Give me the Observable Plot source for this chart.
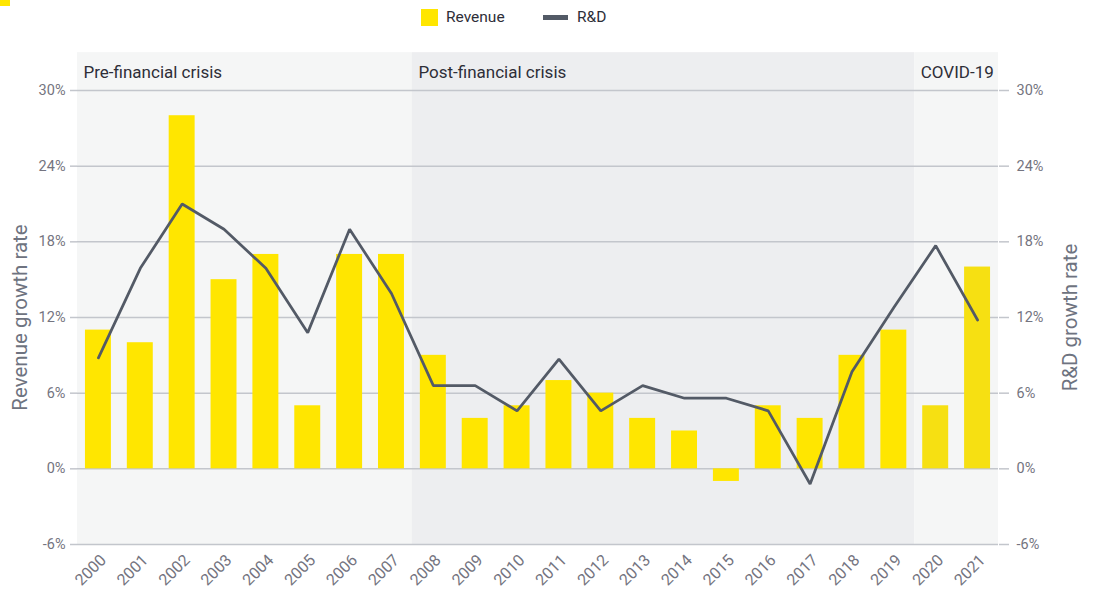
<!DOCTYPE html>
<html>
<head>
<meta charset="utf-8">
<script src="https://cdn.jsdelivr.net/npm/d3@7"></script>
<script src="https://cdn.jsdelivr.net/npm/@observablehq/plot@0.6"></script>
<style>
  html, body { margin: 0; padding: 0; background: #ffffff; }
  body { width: 1094px; height: 595px; position: relative; overflow: hidden; font-family: Roboto, "Noto Sans", sans-serif; }
  #logo { position: absolute; left: 0; top: 0; width: 10px; height: 6px; background: #FFE600; }
  #legend { position: relative; height: 38px; }
  .lg-item { position: absolute; top: 0; height: 34px; display: flex; align-items: center; font-size: 15.5px; color: #2E2E38; }
  .sw-bar { width: 17px; height: 17px; background: #FFE600; margin-right: 8px; }
  .sw-line { width: 25px; height: 5px; background: #535A66; margin-right: 9px; }
  #chart svg { display: block; }
</style>
</head>
<body>
<div id="logo"></div>
<div id="legend">
  <div class="lg-item" style="left:421px"><div class="sw-bar"></div><span>Revenue</span></div>
  <div class="lg-item" style="left:543px"><div class="sw-line"></div><span>R&amp;D</span></div>
</div>
<div id="chart"></div>
<script>
// ---- data ----
const years = [2000, 2001, 2002, 2003, 2004, 2005, 2006, 2007, 2008, 2009, 2010,
               2011, 2012, 2013, 2014, 2015, 2016, 2017, 2018, 2019, 2020, 2021];
const revenueGrowth = [11, 10, 28, 15, 17, 5, 17, 17, 9, 4, 5,
                       7, 6, 4, 3, -1, 5, 4, 9, 11, 5, 16];
const rdGrowth = [8.8, 15.9, 21, 19, 15.9, 10.8, 19, 13.9, 6.6, 6.6, 4.6,
                  8.7, 4.6, 6.6, 5.6, 5.6, 4.6, -1.2, 7.7, 12.8, 17.7, 11.8];
const periodNames = ["Pre-financial crisis", "Post-financial crisis", "COVID-19"];
const periodStart = [2000, 2008, 2020];
const periodEnd = [2007, 2019, 2021];
const yTicks = [-6, 0, 6, 12, 18, 24, 30];

// ---- tables built from arrays ----
const rows = years.map((y, i) => ({year: y, revenue: revenueGrowth[i], rd: rdGrowth[i]}));
const periods = periodNames.map((n, i) => ({name: n, start: periodStart[i], end: periodEnd[i]}));

const gridColor = "#C3C6CC";
const tickText = "#747480";
const darkText = "#2E2E38";

const chart = Plot.plot({
  width: 1094,
  height: 557,
  marginLeft: 77,
  marginRight: 96,
  marginTop: 52,
  marginBottom: 51,
  style: {fontFamily: "Roboto, 'Noto Sans', sans-serif", background: "transparent"},
  x: {type: "linear", domain: [1999.5, 2021.5]},
  y: {domain: [-6, 30]},
  marks: [
    Plot.rect(periods, {
      x1: d => d.start - 0.5, x2: d => d.end + 0.5,
      y1: -6, y2: 33,
      fill: d => d.name.startsWith("Post") ? "#EDEEF0" : "#F5F6F6"
    }),
    Plot.gridY(yTicks, {stroke: gridColor, strokeOpacity: 1, strokeWidth: 1.5}),
    Plot.axisY(yTicks, {
      anchor: "left", tickSize: 7, tickPadding: 5, stroke: gridColor, strokeWidth: 1.5,
      tickFormat: d => d + "%", fontSize: 14.5, color: tickText, label: null
    }),
    Plot.axisY(yTicks, {
      anchor: "right", tickSize: 10, tickPadding: 8, stroke: gridColor, strokeWidth: 1.5,
      tickFormat: d => d + "%", fontSize: 14.5, color: tickText, label: null
    }),
    Plot.axisX(years, {
      tickSize: 0, tickPadding: 13, dx: 5, tickRotate: -45, tickFormat: d => String(d),
      fontSize: 16, color: tickText, label: null
    }),
    Plot.rectY(rows, {
      x1: d => d.year - 0.31, x2: d => d.year + 0.31, y: "revenue",
      fill: d => d.year >= 2020 ? "#F6E012" : "#FFE600"
    }),
    Plot.line(rows, {x: "year", y: "rd", stroke: "#535A66", strokeWidth: 2.75, strokeLinejoin: "miter"}),
    Plot.text(periods, {
      x: d => d.start - 0.5, y: 31.4, text: "name", textAnchor: "start", dx: 6,
      fontSize: 17, fill: darkText
    }),
    Plot.text(["Revenue growth rate"], {
      frameAnchor: "left", textAnchor: "middle", dx: -57, rotate: -90, fontSize: 20.5, fill: "#6E7380"
    }),
    Plot.text(["R&D growth rate"], {
      frameAnchor: "right", textAnchor: "middle", dx: 72, rotate: -90, fontSize: 20.5, fill: "#6E7380"
    })
  ]
});
document.getElementById("chart").appendChild(chart);
</script>
</body>
</html>
